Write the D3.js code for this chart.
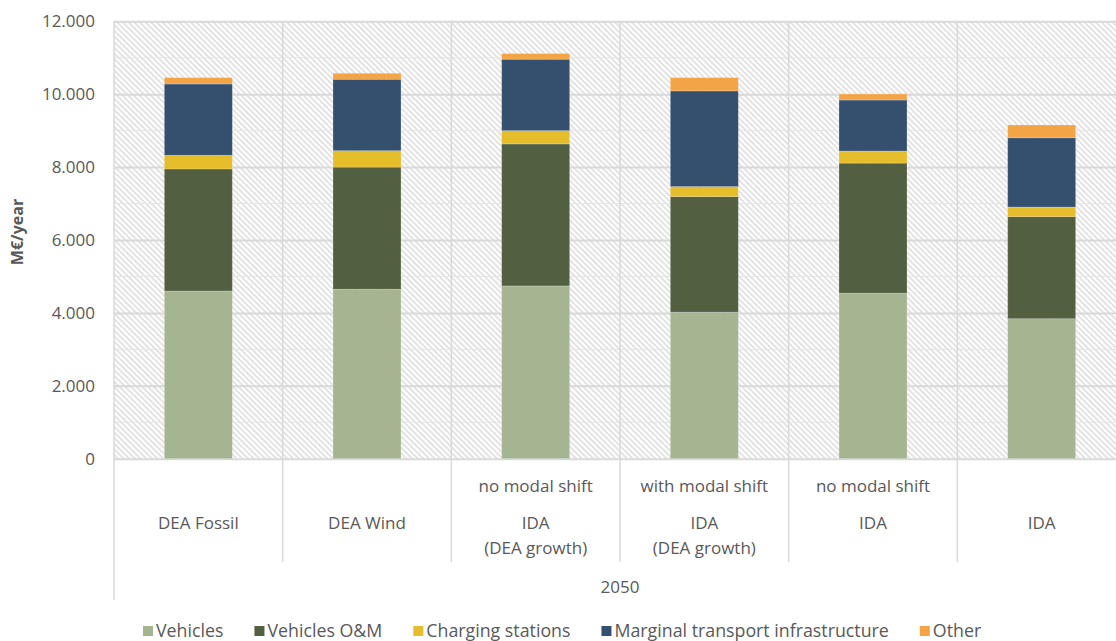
<!DOCTYPE html>
<html>
<head>
<meta charset="utf-8">
<script src="https://cdn.jsdelivr.net/npm/d3@7"></script>
<style>
  body { margin: 0; background: #fff; }
  svg text { font-family: "Open Sans", "Noto Sans", sans-serif; fill: #595959; }
</style>
</head>
<body>
<svg id="chart" width="1116" height="641"></svg>
<script>
// categories (x axis, three levels)
var scenarioKeys = ["fossil", "wind", "idaDeaNo", "idaDeaWith", "idaNo", "ida"];
var subLabels = ["", "", "no modal shift", "with modal shift", "no modal shift", ""];
var mainLabels = [["DEA Fossil"], ["DEA Wind"], ["IDA", "(DEA growth)"], ["IDA", "(DEA growth)"], ["IDA"], ["IDA"]];
var yearLabel = "2050";

// series, M€/year
var seriesNames = ["Vehicles", "Vehicles O&M", "Charging stations", "Marginal transport infrastructure", "Other"];
var vehicles = [4600, 4650, 4740, 4020, 4540, 3840];
var vehiclesOM = [3350, 3350, 3895, 3170, 3570, 2800];
var charging = [375, 450, 365, 275, 330, 265];
var infrastructure = [1955, 1960, 1960, 2625, 1400, 1900];
var other = [175, 165, 155, 365, 165, 350];

var yTicks = [0, 2000, 4000, 6000, 8000, 10000, 12000];
var yMinorTicks = [1000, 3000, 5000, 7000, 9000, 11000];

var colors = ["#a5b592", "#526041", "#e6bd2b", "#34506e", "#f3a447"];

var margin = {left: 114, top: 21.3, bottom: 458.7, right: 1126};

var svg = d3.select("#chart");

// 数据整理
var rows = scenarioKeys.map((k, i) => ({
    key: k,
    "Vehicles": vehicles[i],
    "Vehicles O&M": vehiclesOM[i],
    "Charging stations": charging[i],
    "Marginal transport infrastructure": infrastructure[i],
    "Other": other[i]
}));
var stacked = d3.stack().keys(seriesNames)(rows);

var x = d3.scaleBand()
    .domain(scenarioKeys)
    .range([margin.left, margin.right])
    .paddingInner(0.597)
    .paddingOuter(0.2985);
var step = x.step();

var y = d3.scaleLinear()
    .domain([0, 12000])
    .range([margin.bottom, margin.top]);

var fmt = d3.formatLocale({decimal: ",", thousands: ".", grouping: [3], currency: ["", "€"]}).format(",");

// 斜线底纹
var defs = svg.append("defs");
defs.append("pattern")
    .attr("id", "hatch")
    .attr("patternUnits", "userSpaceOnUse")
    .attr("width", 4)
    .attr("height", 4)
    .attr("patternTransform", "rotate(45)")
    .append("rect")
    .attr("x", 0).attr("y", 0)
    .attr("width", 4).attr("height", 1.7)
    .attr("fill", "#dedede");

svg.append("rect")
    .attr("x", margin.left)
    .attr("y", margin.top)
    .attr("width", margin.right - margin.left)
    .attr("height", margin.bottom - margin.top)
    .attr("fill", "url(#hatch)");

// minor grid
svg.append("g")
    .selectAll("line")
    .data(yMinorTicks)
    .join("line")
    .attr("x1", margin.left).attr("x2", margin.right)
    .attr("y1", d => y(d)).attr("y2", d => y(d))
    .attr("stroke", "#e6e6e6")
    .attr("stroke-width", 1);

// vertical separators inside plot
var bounds = d3.range(0, scenarioKeys.length + 1).map(i => margin.left + i * step);
svg.append("g")
    .selectAll("line")
    .data(bounds)
    .join("line")
    .attr("x1", d => d).attr("x2", d => d)
    .attr("y1", margin.top)
    .attr("y2", (d, i) => i === 0 ? 600 : 562)
    .attr("stroke", "#d9d9d9")
    .attr("stroke-width", 1.5);

// major grid
var grid = svg.append("g")
    .attr("transform", `translate(${margin.left},0)`)
    .call(d3.axisLeft(y).tickValues(yTicks).tickSize(-(margin.right - margin.left)).tickFormat(""));
grid.select(".domain").remove();
grid.selectAll("line").attr("stroke", "#d9d9d9").attr("stroke-width", 2);

// y axis labels
var yAxis = svg.append("g")
    .attr("transform", `translate(${margin.left},0)`)
    .call(d3.axisLeft(y).tickValues(yTicks).tickSize(0).tickPadding(19).tickFormat(fmt));
yAxis.select(".domain").remove();
yAxis.selectAll("text")
    .style("font-size", "17px")
    .attr("fill", "#595959");

svg.append("text")
    .attr("transform", "translate(23,232) rotate(-90)")
    .attr("text-anchor", "middle")
    .style("font-size", "16px")
    .style("font-weight", 700)
    .text("M€/year");

// bars
svg.append("g")
    .selectAll("g")
    .data(stacked)
    .join("g")
    .attr("fill", (d, i) => colors[i])
    .selectAll("rect")
    .data(d => d)
    .join("rect")
    .attr("x", d => x(d.data.key))
    .attr("width", x.bandwidth())
    .attr("y", d => y(d[1]))
    .attr("height", d => y(d[0]) - y(d[1]))
    .attr("stroke", "#ffffff")
    .attr("stroke-opacity", 0.25)
    .attr("stroke-width", 0.8);

// category labels
var cat = svg.append("g").style("font-size", "17px").attr("text-anchor", "middle");
cat.selectAll(".sub")
    .data(scenarioKeys)
    .join("text")
    .attr("class", "sub")
    .attr("x", d => x(d) + x.bandwidth() / 2)
    .attr("y", 486)
    .attr("dy", "0.35em")
    .text((d, i) => subLabels[i]);

cat.selectAll(".main")
    .data(scenarioKeys)
    .join("text")
    .attr("class", "main")
    .attr("x", d => x(d) + x.bandwidth() / 2)
    .attr("y", 523)
    .each(function (d, i) {
        d3.select(this).selectAll("tspan")
            .data(mainLabels[i])
            .join("tspan")
            .attr("x", x(d) + x.bandwidth() / 2)
            .attr("dy", (t, j) => j === 0 ? "0.35em" : "25px")
            .text(t => t);
    });

cat.append("text")
    .attr("x", (margin.left + margin.right) / 2)
    .attr("y", 587)
    .attr("dy", "0.35em")
    .text(yearLabel);

// legend
var legend = svg.append("g").style("font-size", "17.8px");
var lx = 143;
seriesNames.forEach((name, i) => {
    var item = legend.append("g").attr("transform", `translate(${lx},631)`);
    item.append("rect")
        .attr("x", 0).attr("y", -5)
        .attr("width", 10).attr("height", 10)
        .attr("fill", colors[i]);
    var t = item.append("text")
        .attr("x", 13)
        .attr("dy", "0.35em")
        .text(name);
    lx += 13 + t.node().getComputedTextLength() + 31;
});
</script>
</body>
</html>
